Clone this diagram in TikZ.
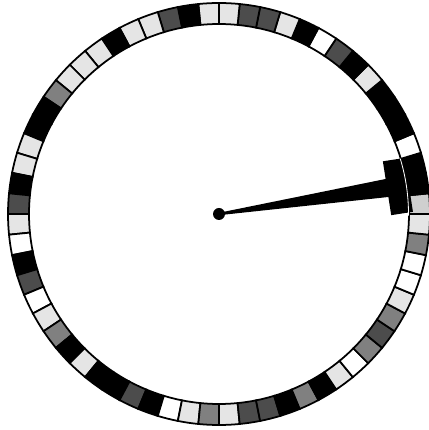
\documentclass[tikz,border=0pt]{standalone}
\usepackage{tikz}
\definecolor{tileL}{gray}{0.9}
\definecolor{tileM}{gray}{0.5}
\definecolor{tileD}{gray}{0.3}
\definecolor{tileS}{gray}{0.81}
\definecolor{tileW}{gray}{1}
\definecolor{tileB}{gray}{0}

\begin{document}
\begin{tikzpicture}[x=0.03cm, y=0.03cm,
    tile/.style={draw=black, line width=1.5pt, line join=miter},
    hand/.style={fill=black}
]
\useasboundingbox (-219,-216) rectangle (209,214);
% ring of 64 tiles
\foreach \c [count=\i from 0] in {S,B,B,W,B,B,B,L,B,D,W,B,L,D,D,L,
    L,B,D,L,L,B,L,L,L,M,B,B,L,L,B,D,
    L,W,B,D,W,L,M,B,L,B,B,D,B,W,L,M,
    L,D,D,B,M,B,L,W,M,D,M,L,W,W,M,L}
{
  \pgfmathsetmacro\a{\i*5.625}
  \pgfmathsetmacro\b{\a+5.625}
  \draw[tile, fill=tile\c] (\a:190) arc[start angle=\a, end angle=\b, radius=190]
     -- (\b:211) arc[start angle=\b, end angle=\a, radius=211] -- cycle;
}
% hand
\begin{scope}[rotate=8.8]
\fill[hand] (0,1.2) -- (172,9.2) -- (172,-9.2) -- (0,-1.2) -- cycle;
\fill[hand] (170,-27.5) rectangle (192,27);
\end{scope}
\fill[hand] (0,0) circle[radius=6];
\draw[white, line width=0.7pt] (-0.5:189.5) arc[start angle=-0.5, end angle=17, radius=189.5];
\end{tikzpicture}
\end{document}
